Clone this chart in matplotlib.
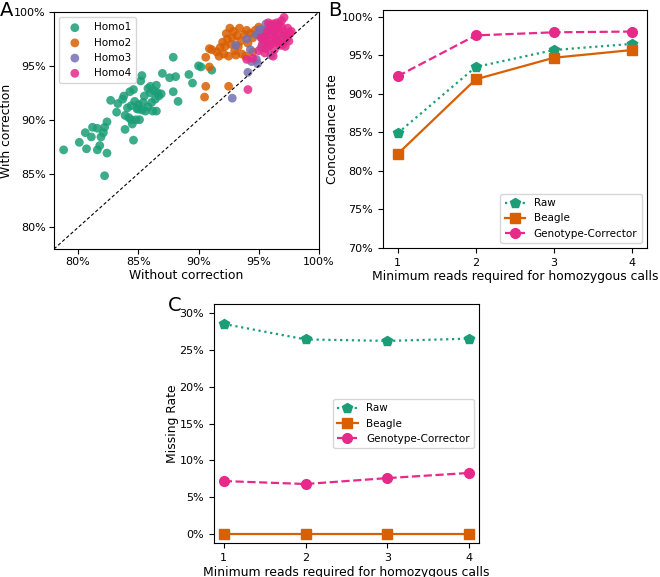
import matplotlib
matplotlib.use("Agg")
import matplotlib.pyplot as plt
from matplotlib.ticker import FuncFormatter, MultipleLocator
import numpy as np

# ---------------- data ----------------
groups = ["Homo1", "Homo2", "Homo3", "Homo4"]
colors = ["#1b9e77", "#d95f02", "#7570b3", "#e7298a"]

homo1_x = [78.8, 80.1, 80.6, 80.7, 81.1, 81.2, 81.6, 81.6, 81.8, 81.9, 82.1, 82.2, 82.4, 82.4,
           82.2, 82.7, 83.2, 83.3, 83.7, 83.8, 83.9, 83.9, 84.2, 84.3, 84.4, 84.4, 84.5, 84.6,
           84.6, 84.8, 84.7, 85.0, 85.0, 85.1, 85.2, 85.3, 85.4, 85.6, 85.8, 86.0, 86.1, 86.2,
           86.3, 86.4, 86.5, 86.5, 86.6, 86.7, 86.9, 87.0, 87.6, 87.9, 87.9, 88.1, 88.3, 89.2,
           89.5, 90.0, 90.2, 91.1, 85.5, 84.9, 85.8, 86.0, 85.3, 84.1]
homo1_y = [87.2, 87.9, 88.8, 87.3, 88.4, 89.3, 89.2, 87.2, 87.6, 88.4, 88.8, 89.3, 89.8, 86.9,
           84.8, 91.8, 90.7, 91.5, 91.9, 92.2, 90.4, 89.1, 90.2, 92.6, 91.3, 90.0, 89.6, 92.8,
           88.1, 90.0, 91.7, 91.0, 91.4, 90.0, 93.6, 94.1, 91.6, 90.8, 92.9, 92.5, 91.6, 90.8,
           92.7, 91.9, 93.2, 90.8, 92.5, 92.2, 92.4, 94.3, 93.9, 95.8, 92.6, 94.0, 91.7, 94.2,
           93.4, 95.0, 94.9, 94.6, 92.2, 91.0, 91.2, 93.1, 90.9, 91.1]

homo2_x = [90.5, 90.6, 90.9, 90.6, 90.9, 91.1, 91.7, 91.8, 92.0, 92.1, 92.3, 92.4, 92.5, 92.5,
           92.6, 92.7, 92.8, 92.9, 93.0, 93.1, 93.2, 93.3, 93.4, 93.5, 93.6, 93.8, 94.0, 94.1,
           94.3, 94.5, 94.7, 95.0, 95.2, 95.4, 93.9, 94.5, 92.2, 91.5]
homo2_y = [92.1, 93.1, 94.9, 95.8, 96.6, 96.5, 95.9, 96.7, 97.2, 96.1, 98.0, 97.5, 95.9, 93.1,
           98.5, 97.0, 97.6, 98.2, 96.4, 96.0, 97.8, 96.8, 98.5, 97.3, 96.1, 97.9, 98.3, 97.1,
           98.0, 97.6, 98.3, 98.6, 97.8, 97.3, 95.9, 96.3, 96.8, 96.3]

homo3_x = [92.8, 93.1, 94.0, 94.1, 94.3, 94.4, 94.8, 94.9, 94.8, 95.0, 95.2, 95.3, 95.5, 95.6,
           95.8, 95.9, 96.0, 95.7, 96.2, 96.5, 96.7, 97.0, 97.3, 95.1, 96.0]
homo3_y = [92.0, 96.9, 97.5, 94.4, 96.5, 95.4, 95.6, 95.2, 97.9, 98.0, 96.7, 97.5, 98.3, 98.9,
           98.6, 97.8, 96.0, 97.1, 98.2, 97.4, 98.9, 97.8, 97.5, 98.4, 98.8]

homo4_x = [94.0, 94.1, 94.5, 95.0, 95.3, 95.4, 95.5, 95.6, 95.7, 95.8, 95.9, 96.0, 96.0, 96.1,
           96.2, 96.2, 96.3, 96.4, 96.5, 96.5, 96.6, 96.7, 96.8, 96.9, 97.0, 97.1, 97.1, 97.2,
           97.3, 97.4, 97.5, 97.6, 97.7, 95.2, 95.6, 96.3, 96.9, 97.0, 96.4, 95.8, 96.6]
homo4_y = [95.6, 92.8, 95.7, 96.4, 97.0, 97.5, 96.2, 97.8, 98.2, 96.8, 97.3, 98.5, 97.0, 97.9,
           95.9, 98.9, 96.5, 97.6, 98.3, 99.0, 97.2, 98.0, 96.9, 98.6, 97.5, 99.5, 98.2, 96.8,
           97.9, 98.5, 97.3, 98.0, 98.2, 97.6, 96.6, 98.6, 99.2, 97.0, 97.2, 99.0, 98.6]

min_reads = [1, 2, 3, 4]
methods = ["Raw", "Beagle", "Genotype-Corrector"]
conc_raw = [84.9, 93.5, 95.7, 96.5]
conc_beagle = [82.2, 91.9, 94.7, 95.7]
conc_gc = [92.3, 97.6, 98.0, 98.1]
miss_raw = [28.5, 26.4, 26.2, 26.5]
miss_beagle = [0.0, 0.0, 0.0, 0.0]
miss_gc = [7.2, 6.8, 7.6, 8.3]

# ---------------- figure ----------------
plt.rcParams['font.family'] = ['DejaVu Sans']
fig = plt.figure(figsize=(6.6, 5.77), dpi=100)

pct = FuncFormatter(lambda v, p: f"{v*100:.0f}%")
tick_fs = 8
label_fs = 8.9

# Panel A
axA = fig.add_axes([0.0818, 0.5685, 0.4015, 0.4107])
scat = [(homo1_x, homo1_y), (homo2_x, homo2_y), (homo3_x, homo3_y), (homo4_x, homo4_y)]
for (xs, ys), g, c in zip(scat, groups, colors):
    axA.scatter(np.array(xs) / 100, np.array(ys) / 100, s=40, color=c, alpha=0.85,
                edgecolors='none', label=g)
axA.plot([0.78, 1.0], [0.78, 1.0], 'k--', lw=0.8, dashes=(3, 2))
axA.set_xlim(0.78, 1.0)
axA.set_ylim(0.78, 1.0)
axA.xaxis.set_major_locator(MultipleLocator(0.05))
axA.yaxis.set_major_locator(MultipleLocator(0.05))
axA.xaxis.set_major_formatter(pct)
axA.yaxis.set_major_formatter(pct)
axA.tick_params(labelsize=tick_fs, pad=2.5)
axA.set_xlabel("Without correction", fontsize=label_fs, labelpad=1)
axA.set_ylabel("With correction", fontsize=label_fs, labelpad=1)
axA.legend(loc='upper left', fontsize=7.5, handletextpad=0.8, borderpad=0.5,
           labelspacing=0.5)

line_styles = [dict(ls=':', marker='p'), dict(ls='-', marker='s'), dict(ls='--', marker='o')]
mcolors = [colors[0], colors[1], colors[3]]

# Panel B
axB = fig.add_axes([0.580, 0.5702, 0.400, 0.4125])
for vals, m, st, c in zip([conc_raw, conc_beagle, conc_gc], methods, line_styles, mcolors):
    axB.plot(min_reads, np.array(vals) / 100, color=c, lw=1.6, markersize=7, label=m, **st)
axB.set_xlim(0.81, 4.19)
axB.set_ylim(0.70, 1.009)
axB.set_xticks(min_reads)
axB.yaxis.set_major_locator(MultipleLocator(0.05))
axB.yaxis.set_major_formatter(pct)
axB.tick_params(labelsize=tick_fs)
axB.set_xlabel("Minimum reads required for homozygous calls", fontsize=label_fs, labelpad=2)
axB.set_ylabel("Concordance rate", fontsize=label_fs, labelpad=2)
axB.legend(loc='lower right', fontsize=7.5)

# Panel C
axC = fig.add_axes([0.3242, 0.0589, 0.4015, 0.4142])
for vals, m, st, c in zip([miss_raw, miss_beagle, miss_gc], methods, line_styles, mcolors):
    axC.plot(min_reads, np.array(vals) / 100, color=c, lw=1.6, markersize=7, label=m, **st)
axC.set_xlim(0.88, 4.12)
axC.set_ylim(-0.012, 0.312)
axC.set_xticks(min_reads)
axC.yaxis.set_major_locator(MultipleLocator(0.05))
axC.yaxis.set_major_formatter(pct)
axC.tick_params(labelsize=tick_fs)
axC.set_xlabel("Minimum reads required for homozygous calls", fontsize=label_fs, labelpad=2)
axC.set_ylabel("Missing Rate", fontsize=label_fs, labelpad=0)
axC.legend(loc='center right', fontsize=7.5)

# Panel letters
fig.text(0.0, 0.999, "A", fontsize=14, va='top', ha='left')
fig.text(0.497, 0.999, "B", fontsize=14, va='top', ha='left')
fig.text(0.255, 0.487, "C", fontsize=14, va='top', ha='left')

fig.savefig("out.png", dpi=100)
